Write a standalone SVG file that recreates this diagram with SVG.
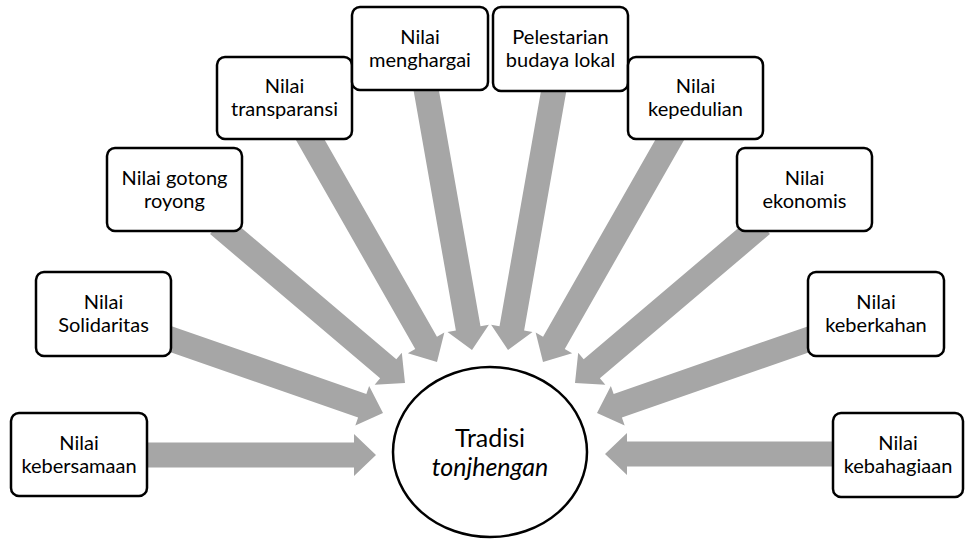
<svg xmlns="http://www.w3.org/2000/svg" width="965" height="539" viewBox="0 0 965 539">
<style>
.bg{fill:#ffffff}
.arrow{fill:#a6a6a6;stroke:none}
.box{fill:#ffffff;stroke:#000000;stroke-width:2.5}
.hub{fill:#ffffff;stroke:#000000;stroke-width:2.5}
.t{font-family:Lato,"Open Sans","Liberation Sans",sans-serif;font-size:20px;fill:#000000;text-anchor:middle}
.c{font-family:Lato,"Open Sans","Liberation Sans",sans-serif;font-size:25px;fill:#000000;text-anchor:middle}
</style>
<rect class="bg" x="0" y="0" width="965" height="539"/>
<g id="connectors">
<polygon class="arrow" points="-236,-12.5 -22,-12.5 -22,-21 0,0 -22,21 -22,12.5 -236,12.5" transform="translate(376,455) rotate(0)"/>
<polygon class="arrow" points="-240,-12.5 -22,-12.5 -22,-21 0,0 -22,21 -22,12.5 -240,12.5" transform="translate(605,454) rotate(180)"/>
<polygon class="arrow" points="-235,-12.5 -22,-12.5 -22,-21 0,0 -22,21 -22,12.5 -235,12.5" transform="translate(383,413) rotate(19.2)"/>
<polygon class="arrow" points="-235,-12.5 -22,-12.5 -22,-21 0,0 -22,21 -22,12.5 -235,12.5" transform="translate(597,413) rotate(160.8)"/>
<polygon class="arrow" points="-245,-12.5 -22,-12.5 -22,-21 0,0 -22,21 -22,12.5 -245,12.5" transform="translate(405,383) rotate(40.3)"/>
<polygon class="arrow" points="-245,-12.5 -22,-12.5 -22,-21 0,0 -22,21 -22,12.5 -245,12.5" transform="translate(575,383) rotate(139.7)"/>
<polygon class="arrow" points="-266,-12.5 -22,-12.5 -22,-21 0,0 -22,21 -22,12.5 -266,12.5" transform="translate(437,362) rotate(60.3)"/>
<polygon class="arrow" points="-266,-12.5 -22,-12.5 -22,-21 0,0 -22,21 -22,12.5 -266,12.5" transform="translate(543,362) rotate(119.7)"/>
<polygon class="arrow" points="-274,-12.5 -22,-12.5 -22,-21 0,0 -22,21 -22,12.5 -274,12.5" transform="translate(472,350) rotate(80)"/>
<polygon class="arrow" points="-274,-12.5 -22,-12.5 -22,-21 0,0 -22,21 -22,12.5 -274,12.5" transform="translate(508,350) rotate(100)"/>
</g>
<g id="hub">
<ellipse class="hub" cx="490" cy="452" rx="97" ry="85"/>
<text class="c" x="490" y="447">Tradisi</text>
<text class="c" x="490" y="476" font-style="italic">tonjhengan</text>
</g>
<g id="n-kebersamaan">
<rect class="box" x="11" y="413" width="136" height="83" rx="8"/>
<text class="t" x="79" y="450">Nilai</text>
<text class="t" x="79" y="473">kebersamaan</text>
</g>
<g id="n-solidaritas">
<rect class="box" x="36" y="272" width="135" height="84" rx="8"/>
<text class="t" x="103.5" y="309">Nilai</text>
<text class="t" x="103.5" y="332">Solidaritas</text>
</g>
<g id="n-gotong">
<rect class="box" x="107" y="148" width="135" height="83" rx="8"/>
<text class="t" x="174.5" y="185">Nilai gotong</text>
<text class="t" x="174.5" y="208">royong</text>
</g>
<g id="n-transparansi">
<rect class="box" x="217" y="57" width="135" height="82" rx="8"/>
<text class="t" x="284.5" y="93">Nilai</text>
<text class="t" x="284.5" y="116">transparansi</text>
</g>
<g id="n-menghargai">
<rect class="box" x="352" y="7" width="136" height="83" rx="8"/>
<text class="t" x="420" y="44">Nilai</text>
<text class="t" x="420" y="67">menghargai</text>
</g>
<g id="n-pelestarian">
<rect class="box" x="493" y="7" width="135" height="84" rx="8"/>
<text class="t" x="560.5" y="44">Pelestarian</text>
<text class="t" x="560.5" y="67">budaya lokal</text>
</g>
<g id="n-kepedulian">
<rect class="box" x="628" y="57" width="135" height="82" rx="8"/>
<text class="t" x="695.5" y="93">Nilai</text>
<text class="t" x="695.5" y="116">kepedulian</text>
</g>
<g id="n-ekonomis">
<rect class="box" x="737" y="148" width="135" height="83" rx="8"/>
<text class="t" x="804.5" y="185">Nilai</text>
<text class="t" x="804.5" y="208">ekonomis</text>
</g>
<g id="n-keberkahan">
<rect class="box" x="808" y="272" width="136" height="84" rx="8"/>
<text class="t" x="876" y="309">Nilai</text>
<text class="t" x="876" y="332">keberkahan</text>
</g>
<g id="n-kebahagiaan">
<rect class="box" x="833" y="413" width="130" height="84" rx="8"/>
<text class="t" x="898" y="450">Nilai</text>
<text class="t" x="898" y="473">kebahagiaan</text>
</g>
</svg>
